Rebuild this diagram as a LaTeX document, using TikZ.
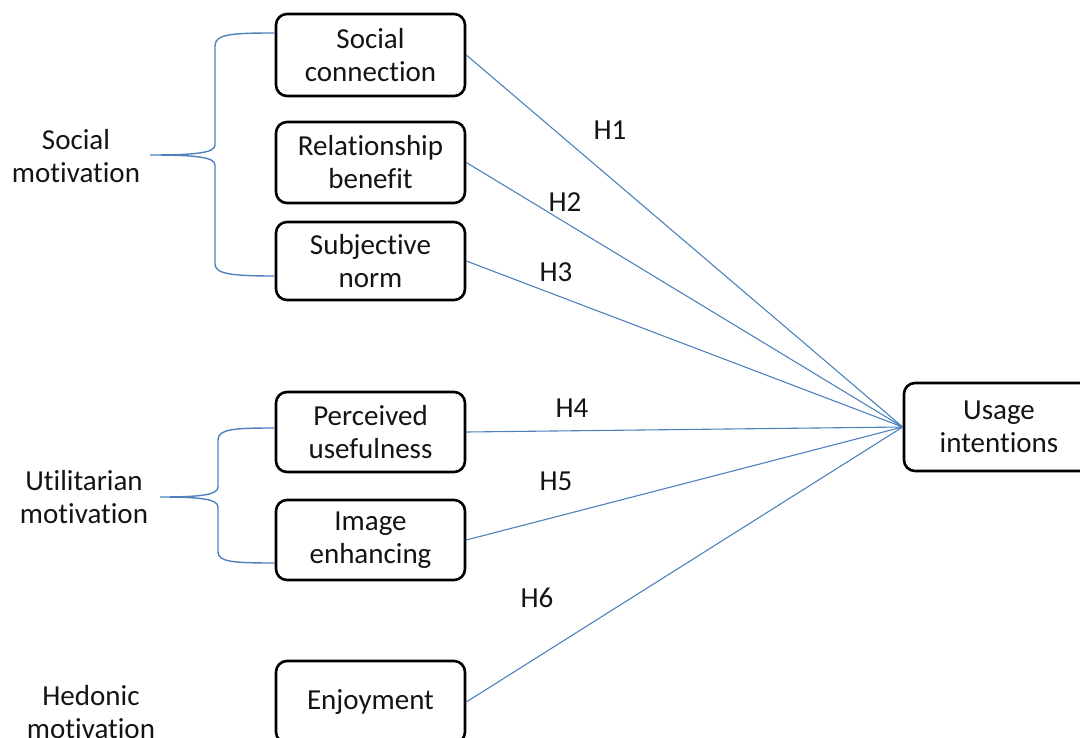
\documentclass[tikz,border=0pt]{standalone}
\usepackage{fontspec}
\setmainfont[Ligatures=NoCommon]{Carlito}
\definecolor{linkblue}{RGB}{79,129,189}
\definecolor{txt}{RGB}{20,20,20}
\tikzset{
  box/.style={draw=black, line width=2.6pt, rounded corners=11pt, minimum width=189pt, align=center, inner sep=0pt, text=txt, font=\fontsize{29}{33}\selectfont},
  lbl/.style={align=center, inner sep=0pt, text=txt, font=\fontsize{29}{33}\selectfont},
  link/.style={draw=linkblue, line width=1.1pt},
  brace/.style={draw=linkblue, line width=1.4pt}
}
\begin{document}
\begin{tikzpicture}[x=1pt,y=-1pt]
\useasboundingbox (0,0) rectangle (1080,738);
\clip (0,0) rectangle (1080,738);
% boxes
\node[box, minimum height=82pt] (sc) at (370.5,55) {Social\\connection};
\node[box, minimum height=81pt] (rb) at (370.5,162.5) {Relationship\\benefit};
\node[box, minimum height=78pt] (sn) at (370.5,261) {Subjective\\norm};
\node[box, minimum height=80pt] (pu) at (370.5,432) {Perceived\\usefulness};
\node[box, minimum height=80pt] (ie) at (370.5,540) {Image\\enhancing};
\node[box, minimum height=82pt] (en) at (370.5,702) {Enjoyment};
\node[box, minimum height=88pt, minimum width=190pt] (ui) at (999,427) {Usage\\intentions};
% group labels
\node[lbl] (gs) at (76,156) {Social\\motivation};
\node[lbl] (gu) at (84,497) {Utilitarian\\motivation};
\node[lbl] (gh) at (91,712) {Hedonic\\motivation};
% connectors
\draw[link] (sc.east) -- (ui.west);
\draw[link] (rb.east) -- (ui.west);
\draw[link] (sn.east) -- (ui.west);
\draw[link] (pu.east) -- (ui.west);
\draw[link] (ie.east) -- (ui.west);
\draw[link] (en.east) -- (ui.west);
% hypothesis labels
\node[lbl] (h1) at (610,130) {H1};
\node[lbl] (h2) at (565,202) {H2};
\node[lbl] (h3) at (556,272) {H3};
\node[lbl] (h4) at (572,408) {H4};
\node[lbl] (h5) at (556,481) {H5};
\node[lbl] (h6) at (537,598) {H6};
% braces
\coordinate (b1t) at (sc.west |- 0,33);
\coordinate (b1b) at (sn.west |- 0,276);
\coordinate (b1m) at (150,155);
\draw[brace] (b1t) .. controls (232,33) and (215,34) .. (215,46) -- (215,145)
  .. controls (215,153) and (195,155) .. (b1m)
  .. controls (195,155) and (215,157) .. (215,165) -- (215,264)
  .. controls (215,274) and (232,276) .. (b1b);
\coordinate (b2t) at (pu.west |- 0,428);
\coordinate (b2b) at (ie.west |- 0,563);
\coordinate (b2m) at (160,497);
\draw[brace] (b2t) .. controls (234,428) and (218,429) .. (218,440) -- (218,487)
  .. controls (218,495) and (200,497) .. (b2m)
  .. controls (200,497) and (218,499) .. (218,507) -- (218,552)
  .. controls (218,562) and (234,563) .. (b2b);
\end{tikzpicture}
\end{document}
